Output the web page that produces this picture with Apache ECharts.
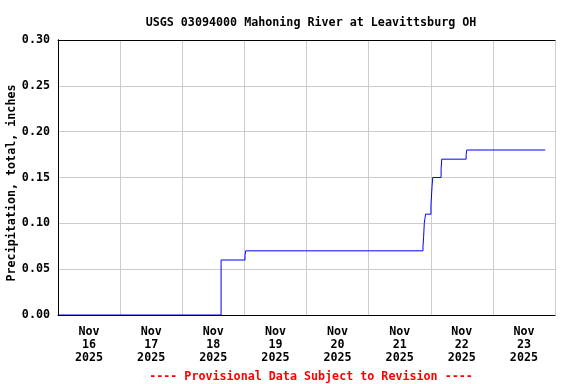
<!DOCTYPE html>
<html>
<head>
<meta charset="utf-8">
<script src="https://cdn.jsdelivr.net/npm/echarts@6/dist/echarts.min.js"></script>
<style>html,body{margin:0;padding:0;background:#fff;}#c{width:576px;height:384px;}</style>
</head>
<body>
<div id="c"></div>
<script>
// Observation times (local) and cumulative precipitation, inches
var times = [
  '2025-11-16 00:00', '2025-11-18 15:00', '2025-11-19 00:15', '2025-11-19 00:30',
  '2025-11-21 21:00', '2025-11-21 21:15', '2025-11-21 21:30', '2025-11-21 21:45',
  '2025-11-21 22:00', '2025-11-21 22:15', '2025-11-22 00:05', '2025-11-22 00:30',
  '2025-11-22 00:45', '2025-11-22 04:00', '2025-11-22 04:15', '2025-11-22 13:40',
  '2025-11-22 13:55', '2025-11-23 20:15'
];
var precip = [
  0.00, 0.06, 0.065, 0.07,
  0.075, 0.085, 0.10, 0.105,
  0.11, 0.11, 0.12, 0.14,
  0.15, 0.16, 0.17, 0.175,
  0.18, 0.18
];
var tickLabels = ['Nov\n16\n2025','Nov\n17\n2025','Nov\n18\n2025','Nov\n19\n2025',
                  'Nov\n20\n2025','Nov\n21\n2025','Nov\n22\n2025','Nov\n23\n2025'];
var yTicks = [0.00, 0.05, 0.10, 0.15, 0.20, 0.25, 0.30];
var titleText = 'USGS 03094000 Mahoning River at Leavittsburg OH';
var yName = 'Precipitation, total, inches';
var footText = '---- Provisional Data Subject to Revision ----';

var startMs = Date.parse('2025-11-16T00:00:00Z');
function hrs(s) { return (Date.parse(s.replace(' ', 'T') + ':00Z') - startMs) / 3600000; }
var data = times.map(function (t, i) { return [hrs(t), precip[i]]; });

var FONT = 'DejaVu Sans Mono';
var FS = 11.7;
var chart = echarts.init(document.getElementById('c'), null, {renderer: 'canvas'});
chart.setOption({
  animation: false,
  backgroundColor: '#fff',
  title: [{
    text: titleText, left: 306, top: 12, textAlign: 'center',
    textStyle: {fontFamily: FONT, fontSize: FS, fontWeight: 'bold', color: '#000'}
  }, {
    text: footText, left: 306, top: 366, textAlign: 'center',
    textStyle: {fontFamily: FONT, fontSize: FS, fontWeight: 'bold', color: '#ff0000'}
  }],
  graphic: [{
    type: 'text', x: 12, y: 183, rotation: Math.PI / 2, silent: true,
    style: {text: yName, align: 'center', verticalAlign: 'middle', fill: '#000',
      fontFamily: FONT, fontSize: FS, fontWeight: 'bold'}
  }],
  grid: {left: 58, right: 21, top: 40, bottom: 69, outerBoundsMode: 'none', containLabel: false,
    show: false},
  xAxis: [{
    type: 'value', min: 0, max: 192, interval: 24,
    axisLine: {show: false}, axisTick: {show: false}, axisLabel: {show: false},
    splitLine: {show: true, lineStyle: {color: '#cccccc', width: 1}}
  }, {
    type: 'value', min: 0, max: 192, interval: 12, position: 'bottom',
    axisLine: {show: false}, axisTick: {show: false}, splitLine: {show: false},
    axisLabel: {
      show: true, margin: 10, color: '#000', fontFamily: FONT, fontSize: FS, fontWeight: 'bold', lineHeight: 13,
      showMinLabel: true, showMaxLabel: true,
      formatter: function (v) { return (v % 24 === 12) ? tickLabels[(v - 12) / 24] : ''; }
    }
  }, {
    type: 'value', min: 0, max: 192, position: 'top',
    axisLine: {show: true, lineStyle: {color: '#000', width: 1}}, axisTick: {show: false},
    axisLabel: {show: false}, splitLine: {show: false}
  }, {
    type: 'value', min: 0, max: 192, position: 'bottom',
    axisLine: {show: true, lineStyle: {color: '#000', width: 1}}, axisTick: {show: false},
    axisLabel: {show: false}, splitLine: {show: false}
  }],
  yAxis: [{
    type: 'value', min: 0, max: 0.30, interval: 0.05,
    axisLine: {show: true, lineStyle: {color: '#000', width: 1}}, axisTick: {show: false},
    axisLabel: {margin: 8, color: '#000', fontFamily: FONT, fontSize: FS, fontWeight: 'bold',
      formatter: function (v) { return v.toFixed(2); }},
    splitLine: {show: true, lineStyle: {color: '#cccccc', width: 1}}
  }, {
    type: 'value', min: 0, max: 0.30, position: 'right',
    axisLine: {show: true, lineStyle: {color: '#000', width: 1}}, axisTick: {show: false},
    axisLabel: {show: false}, splitLine: {show: false}
  }],
  series: [{
    type: 'line', xAxisIndex: 0, yAxisIndex: 0, step: 'end', data: data, showSymbol: false, symbol: 'none',
    lineStyle: {color: '#0000ff', width: 1}, silent: true
  }]
});
</script>
</body>
</html>
